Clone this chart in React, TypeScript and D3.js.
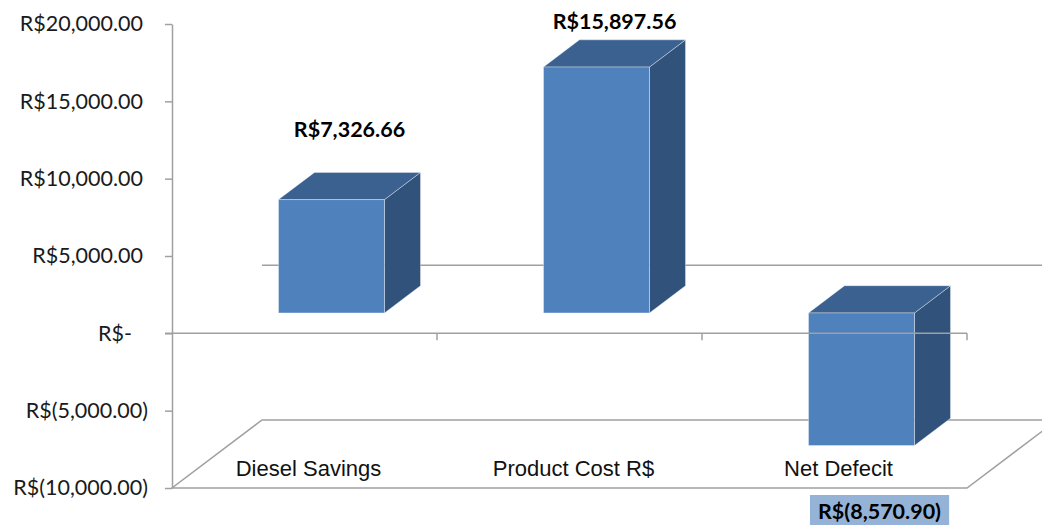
import React, { useEffect, useRef } from 'react';
import * as d3 from 'd3';

// chart data
const categories = ['Diesel Savings', 'Product Cost R$', 'Net Defecit'];
const values = [7326.66, 15897.56, -8570.9];
const yTicks = [-10000, -5000, 0, 5000, 10000, 15000, 20000];

const width = 1042;
const height = 525;

// Excel style accounting format
const money = (v: number) => {
  if (v === 0) return 'R$-';
  const s = d3.format(',.2f')(Math.abs(v));
  return v < 0 ? `R$(${s})` : `R$${s}`;
};

const App = () => {
  const svgRef = useRef<SVGSVGElement>(null);

  useEffect(() => {
    const svg = d3.select(svgRef.current);
    svg.selectAll('*').remove();

    const left = 172, right = 967;
    const x = d3.scaleBand<string>().domain(categories).range([left, right])
      .paddingInner(0.6).paddingOuter(0.3);
    const y = d3.scaleLinear().domain([-10000, 20000]).range([488, 24]);
    const step = x.step();
    const bw = x.bandwidth();

    // 3D depth of the floor in screen space, bars sit in the middle of it
    const DX = 90, DY = -68;
    const d0 = 0.3, d1 = 0.7;
    const pt = (px: number, v: number, d: number): [number, number] => [px + d * DX, y(v) + d * DY];
    const poly = (pts: [number, number][]) => d3.line()(pts) + 'Z';
    const grey = '#a0a0a0';
    const yMin = y.domain()[0];

    // floor
    svg.append('path')
      .attr('d', poly([pt(left, yMin, 0), pt(right, yMin, 0), pt(right, yMin, 1), pt(left, yMin, 1)]))
      .attr('fill', 'none')
      .attr('stroke', grey)
      .attr('stroke-width', 1.5);

    // back wall zero line
    svg.append('path')
      .attr('d', d3.line()([pt(left, 0, 1), pt(right, 0, 1)]))
      .attr('stroke', grey)
      .attr('stroke-width', 1.5);

    // bars
    categories.forEach((c, i) => {
      const v = values[i];
      const lo = Math.min(0, v), hi = Math.max(0, v);
      const xl = x(c)!, xr = xl + bw;
      const g = svg.append('g')
        .attr('stroke', 'rgba(255,255,255,0.35)')
        .attr('stroke-width', 1)
        .attr('stroke-linejoin', 'round');
      g.append('path')
        .attr('d', poly([pt(xr, lo, d0), pt(xr, hi, d0), pt(xr, hi, d1), pt(xr, lo, d1)]))
        .attr('fill', '#31537b');
      g.append('path')
        .attr('d', poly([pt(xl, hi, d0), pt(xr, hi, d0), pt(xr, hi, d1), pt(xl, hi, d1)]))
        .attr('fill', '#3b6190');
      g.append('path')
        .attr('d', poly([pt(xl, lo, d0), pt(xr, lo, d0), pt(xr, hi, d0), pt(xl, hi, d0)]))
        .attr('fill', '#4f81bd');
    });

    // front zero line with category ticks
    svg.append('line')
      .attr('x1', left - 7).attr('x2', right)
      .attr('y1', y(0)).attr('y2', y(0))
      .attr('stroke', grey)
      .attr('stroke-width', 1.5);

    categories.forEach((c) => {
      const bx = x(c)! + bw + x.paddingOuter() * step;
      svg.append('line')
        .attr('x1', bx).attr('x2', bx)
        .attr('y1', y(0)).attr('y2', y(0) + 7)
        .attr('stroke', grey)
        .attr('stroke-width', 1.5);
    });

    // y axis
    const yAxis = svg.append('g')
      .attr('transform', `translate(${left},0)`)
      .call(d3.axisLeft(y).tickValues(yTicks).tickSize(7).tickSizeOuter(0)
        .tickPadding(17).tickFormat((d) => money(+d)));
    yAxis.select('.domain').attr('stroke', grey).attr('stroke-width', 1.5);
    yAxis.selectAll('.tick line').attr('stroke', grey).attr('stroke-width', 1.5);
    yAxis.selectAll<SVGTextElement, number>('.tick text')
      .attr('fill', '#1a1a1a')
      .style('font-family', 'Lato, sans-serif')
      .style('font-size', '21.5px')
      .attr('dx', (d) => (d > 0 ? -5 : d === 0 ? -16 : 0));

    // category labels on the floor
    svg.append('g').selectAll('text')
      .data(categories)
      .enter().append('text')
      .attr('x', (d) => x(d)! + bw / 2 + 4)
      .attr('y', y(yMin) - 12)
      .attr('text-anchor', 'middle')
      .style('font-family', '"Liberation Sans", Arial, sans-serif')
      .style('font-size', '22px')
      .attr('fill', '#111')
      .text((d) => d);

    // data labels
    categories.forEach((c, i) => {
      const v = values[i];
      const cx = x(c)! + bw / 2 + 0.5 * DX;
      const lbl = svg.append('text')
        .attr('x', cx)
        .attr('text-anchor', 'middle')
        .style('font-family', 'Lato, sans-serif')
        .style('font-weight', 'bold')
        .style('font-size', '21.5px')
        .attr('fill', '#000')
        .text(money(v));
      if (v >= 0) {
        const topBack = pt(0, v, d1)[1];
        lbl.attr('y', Math.max(topBack - 35, y(20000) + 5));
      } else {
        lbl.attr('y', y(yMin) + 31);
        const bb = (lbl.node() as SVGTextElement).getBBox();
        svg.insert('rect', () => lbl.node())
          .attr('x', bb.x - 8)
          .attr('y', bb.y - 3)
          .attr('width', bb.width + 16)
          .attr('height', bb.height + 12)
          .attr('fill', '#95b3d7');
      }
    });
  }, []);

  return (
    <svg
      ref={svgRef}
      width={width}
      height={height}
      style={{ position: 'absolute', left: 0, top: 0, background: '#fff' }}
    />
  );
};

export default App;
